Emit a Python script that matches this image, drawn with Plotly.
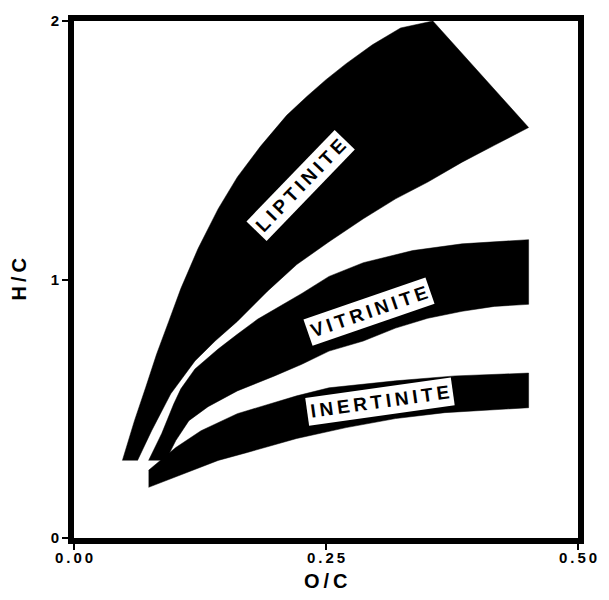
import plotly.graph_objects as go

# Van Krevelen-style fields for the three maceral groups (O/C vs H/C)
liptinite_x = [0.048, 0.060, 0.071, 0.082, 0.094, 0.106, 0.123, 0.143, 0.162, 0.185,
               0.211, 0.231, 0.250, 0.270, 0.296, 0.324, 0.356, 0.451,
               0.417, 0.385, 0.351, 0.319, 0.287, 0.253, 0.221, 0.192, 0.162, 0.140,
               0.120, 0.096, 0.077, 0.063]
liptinite_y = [0.300, 0.454, 0.581, 0.712, 0.838, 0.965, 1.119, 1.273, 1.396, 1.515,
               1.635, 1.708, 1.773, 1.835, 1.908, 1.973, 2.000, 1.588,
               1.519, 1.454, 1.377, 1.312, 1.235, 1.146, 1.058, 0.955, 0.838, 0.762,
               0.685, 0.558, 0.415, 0.300]

vitrinite_x = [0.074, 0.087, 0.099, 0.106, 0.120, 0.143, 0.162, 0.182, 0.226, 0.253,
               0.287, 0.336, 0.385, 0.451, 0.451,
               0.417, 0.385, 0.351, 0.319, 0.287, 0.253, 0.226, 0.199, 0.162, 0.133,
               0.114, 0.101, 0.091]
vitrinite_y = [0.300, 0.404, 0.519, 0.577, 0.654, 0.731, 0.788, 0.846, 0.946, 1.012,
               1.065, 1.112, 1.138, 1.154, 0.904,
               0.896, 0.877, 0.850, 0.812, 0.762, 0.723, 0.672, 0.627, 0.569, 0.508,
               0.454, 0.377, 0.300]

inertinite_x = [0.074, 0.101, 0.126, 0.162, 0.221, 0.253, 0.319, 0.378, 0.451, 0.451,
                0.368, 0.319, 0.270, 0.221, 0.172, 0.143, 0.074]
inertinite_y = [0.262, 0.350, 0.415, 0.481, 0.550, 0.581, 0.608, 0.627, 0.638, 0.504,
                0.485, 0.462, 0.427, 0.385, 0.331, 0.300, 0.196]

group_names = ["LIPTINITE", "VITRINITE", "INERTINITE"]
label_x = [0.225, 0.293, 0.304]
label_y = [1.362, 0.876, 0.527]
label_angle = [-46, -19, -8]

x_ticks = [0.0, 0.25, 0.5]
x_tick_text = ["0.00", "0.25", "0.50"]
y_ticks = [0, 1, 2]
y_tick_text = ["0", "1", "2"]

FONT = "Liberation Sans"
THIN = "\u2009"


def spaced(s):
    """Letter-spaced text using thin spaces between characters."""
    return THIN.join(s)


fig = go.Figure()
for xs, ys, name in zip([liptinite_x, vitrinite_x, inertinite_x],
                        [liptinite_y, vitrinite_y, inertinite_y], group_names):
    fig.add_trace(go.Scatter(
        x=xs, y=ys, name=name, mode="lines", fill="toself",
        fillcolor="black", line=dict(color="black", width=0.5),
        hoverinfo="name", showlegend=False,
    ))

for name, lx, ly, ang in zip(group_names, label_x, label_y, label_angle):
    fig.add_annotation(
        x=lx, y=ly, xref="x", yref="y", text=spaced(name), showarrow=False,
        textangle=ang, bgcolor="white", borderpad=3,
        font=dict(family=FONT, size=19, color="black", weight="bold"),
    )

# axis titles
fig.add_annotation(x=0.5, y=0, xref="paper", yref="paper", text=spaced("O/C"),
                   showarrow=False, yshift=-43, yanchor="middle",
                   font=dict(family=FONT, size=20, color="black", weight="bold"))
fig.add_annotation(x=0, y=0.5, xref="paper", yref="paper", text=spaced("H/C"),
                   showarrow=False, xshift=-56, xanchor="center", textangle=-90,
                   font=dict(family=FONT, size=20, color="black", weight="bold"))

axis_common = dict(
    showgrid=False, zeroline=False, showline=True, mirror=True,
    linecolor="black", linewidth=6, ticks="outside", ticklen=6,
    tickwidth=1.5, tickcolor="black",
)
fig.update_xaxes(range=[0, 0.5], tickvals=x_ticks,
                 ticktext=[spaced(t) for t in x_tick_text],
                 ticklabelstandoff=-5,
                 tickfont=dict(family=FONT, size=15, color="black", weight="bold"),
                 **axis_common)
fig.update_yaxes(range=[0, 2], tickvals=y_ticks, ticktext=y_tick_text,
                 tickfont=dict(family=FONT, size=15, color="black", weight="bold"),
                 **axis_common)

fig.update_layout(
    width=609, height=600,
    margin=dict(l=74, r=24, t=18, b=62),
    plot_bgcolor="white", paper_bgcolor="white",
)

fig.write_html("out.html")
